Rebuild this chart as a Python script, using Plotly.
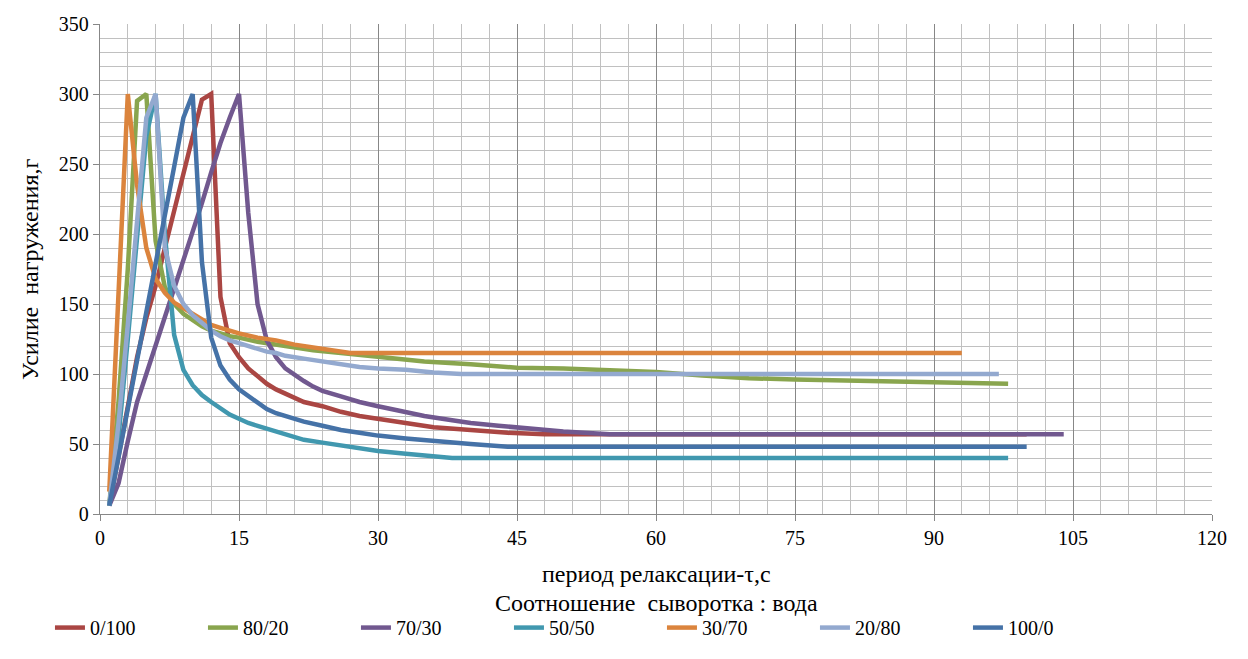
import plotly.graph_objects as go

# ---- data ----
names = ["0/100", "80/20", "70/30", "50/50", "30/70", "20/80", "100/0"]

x_0_100 = [1, 2, 3, 4, 5, 6, 7, 8, 9, 10, 11, 12, 13, 14, 15, 16, 17, 18, 19, 20, 21, 22, 24, 26, 28, 30, 33, 36, 40, 44, 48, 52, 100]
y_0_100 = [6, 40, 78, 112, 140, 163, 190, 216, 243, 270, 296, 300, 155, 122, 112, 104, 98, 93, 89, 86, 83, 80, 77, 73, 70, 68, 65, 62, 60, 58, 57, 57, 57]

x_80_20 = [1, 2, 3, 4, 5, 6, 7, 8, 9, 10, 11, 12, 13, 14, 15, 17, 20, 23, 26, 30, 35, 40, 45, 50, 55, 60, 65, 70, 75, 80, 85, 90, 95, 98]
y_80_20 = [6, 80, 175, 295, 300, 195, 162, 150, 143, 138, 134, 131, 129, 127, 126, 123, 120, 117, 115, 112, 109, 107, 104.5, 104, 103, 101.5, 99, 97, 96, 95.5, 95, 94.5, 94, 93]

x_70_30 = [1, 2, 3, 4, 5, 6, 7, 8, 9, 10, 11, 12, 13, 14, 15, 16, 17, 18, 19, 20, 21, 22, 23, 24, 26, 28, 30, 32, 35, 38, 40, 43, 46, 50, 55, 104]
y_70_30 = [6, 22, 52, 80, 100, 120, 140, 160, 182, 201, 222, 244, 265, 283, 300, 215, 150, 124, 112, 104, 99, 95, 91, 88, 84, 80, 77, 74, 70, 67, 65, 63, 61, 59, 57, 57]

x_50_50 = [1, 2, 3, 4, 5, 6, 7, 8, 9, 10, 11, 12, 13, 14, 15, 16, 17, 18, 19, 20, 22, 24, 26, 28, 30, 33, 36, 38, 98]
y_50_50 = [6, 55, 125, 195, 270, 300, 200, 128, 103, 92, 85, 80, 75, 71, 68, 65, 63, 61, 59, 57, 53, 51, 49, 47, 45, 43, 41, 40, 40]

x_30_70 = [1, 2, 3, 4, 5, 6, 7, 8, 9, 10, 11, 12, 13, 14, 15, 17, 19, 21, 23, 25, 27, 93]
y_30_70 = [16, 150, 300, 235, 190, 168, 158, 151, 147, 143, 139, 135, 133, 131, 129, 126, 124, 121, 119, 117, 115, 115]

x_20_80 = [1, 2, 3, 4, 5, 6, 7, 8, 9, 10, 11, 12, 13, 14, 15, 16, 17, 18, 19, 20, 22, 24, 26, 28, 30, 33, 36, 39, 97]
y_20_80 = [6, 65, 135, 210, 283, 300, 190, 163, 150, 142, 136, 131, 127, 124, 122, 120, 118, 116, 115, 113, 111, 109, 107, 105, 104, 103, 101, 100, 100]

x_100_0 = [1, 2, 3, 4, 5, 6, 7, 8, 9, 10, 11, 12, 13, 14, 15, 16, 17, 18, 19, 20, 22, 24, 26, 28, 30, 33, 36, 40, 44, 100]
y_100_0 = [6, 40, 75, 110, 145, 180, 213, 248, 283, 300, 180, 126, 106, 96, 89, 84, 79, 75, 72, 70, 66, 63, 60, 58, 56, 54, 52, 50, 48, 48]

xs = [x_0_100, x_80_20, x_70_30, x_50_50, x_30_70, x_20_80, x_100_0]
ys = [y_0_100, y_80_20, y_70_30, y_50_50, y_30_70, y_20_80, y_100_0]
colors = ["#AA4643", "#89A54E", "#71588F", "#4198AF", "#DB843D", "#93A9CF", "#4572A7"]

FONT = "Liberation Serif"

fig = go.Figure()
for n, x, y, c in zip(names, xs, ys, colors):
    fig.add_trace(go.Scatter(x=x, y=y, mode="lines", name=n,
                             line=dict(color=c, width=4.5)))

fig.update_xaxes(range=[0, 120], tick0=0, dtick=15,
                 showgrid=True, gridcolor="#878787", gridwidth=1.3,
                 minor=dict(tick0=0, dtick=3, showgrid=True, gridcolor="#C0C0C0", gridwidth=1.3),
                 showline=True, linecolor="#878787", linewidth=1.3,
                 ticks="outside", ticklen=6, tickcolor="#878787", tickwidth=1.3,
                 tickfont=dict(family=FONT, size=20, color="black"), zeroline=False)
fig.update_yaxes(range=[0, 350], tick0=0, dtick=50,
                 showgrid=True, gridcolor="#BFBFBF", gridwidth=1.3,
                 minor=dict(tick0=0, dtick=10, showgrid=True, gridcolor="#C0C0C0", gridwidth=1.3),
                 showline=True, linecolor="#878787", linewidth=1.3,
                 ticks="outside", ticklen=6, tickcolor="#878787", tickwidth=1.3,
                 tickfont=dict(family=FONT, size=20, color="black"), zeroline=False)

fig.update_layout(
    width=1248, height=659,
    margin=dict(l=100, r=36, t=24, b=142),
    paper_bgcolor="white", plot_bgcolor="white",
    font=dict(family=FONT, size=20, color="black"),
    showlegend=True,
    legend=dict(orientation="h", x=-0.045, xanchor="left",
                y=-0.192, yanchor="top",
                entrywidth=108, entrywidthmode="pixels",
                font=dict(family=FONT, size=20, color="black"),
                bgcolor="rgba(0,0,0,0)"),
    annotations=[
        dict(text="Усилие  нагружения,г", xref="paper", yref="paper",
             x=-0.063, y=0.5, textangle=-90, showarrow=False,
             xanchor="center", yanchor="middle",
             font=dict(family=FONT, size=24, color="black")),
        dict(text="период релаксации-τ,с", xref="paper", yref="paper",
             x=0.5, y=-0.1217, showarrow=False, xanchor="center", yanchor="middle",
             font=dict(family=FONT, size=24, color="black")),
        dict(text="Соотношение  сыворотка : вода", xref="paper", yref="paper",
             x=0.5, y=-0.1826, showarrow=False, xanchor="center", yanchor="middle",
             font=dict(family=FONT, size=24, color="black")),
    ],
)

fig.write_html("out.html")
